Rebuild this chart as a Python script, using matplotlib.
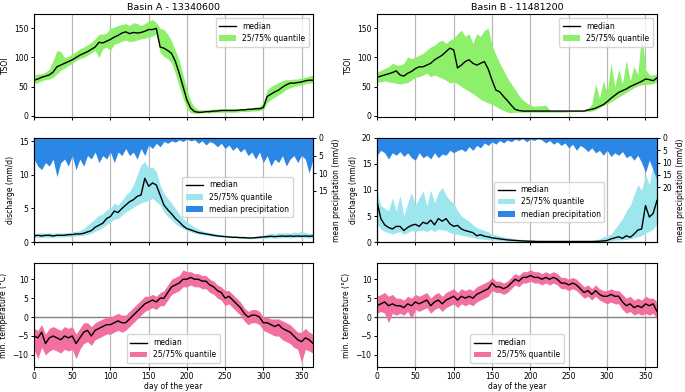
import numpy as np
import matplotlib
matplotlib.use("Agg")
import matplotlib.pyplot as plt

days = np.arange(0, 366, 5)

titles = ["Basin A - 13340600", "Basin B - 11481200"]

# ---- TSOI ----
tsoi_a_med = [61, 63, 66, 68, 70, 75, 84, 87, 90, 93,
              96, 100, 104, 107, 110, 114, 118, 126, 125, 128,
              131, 135, 138, 142, 144, 141, 143, 142, 143, 145,
              148, 148, 150, 118, 116, 112, 107, 93, 73, 50,
              27, 13, 7, 6, 6, 7, 7, 8, 8, 9,
              9, 9, 9, 9, 10, 10, 11, 11, 12, 12,
              14, 33, 37, 41, 44, 49, 53, 56, 56, 57,
              58, 60, 61, 61]
tsoi_a_hi = [70, 72, 72, 75, 80, 95, 112, 110, 100, 102,
             106, 110, 115, 118, 122, 126, 132, 140, 140, 142,
             150, 152, 155, 157, 158, 155, 160, 158, 155, 158,
             163, 165, 160, 150, 148, 140, 128, 112, 95, 70,
             45, 25, 15, 10, 10, 10, 11, 11, 12, 12,
             12, 12, 12, 12, 12, 12, 13, 14, 15, 16,
             22, 45, 50, 54, 57, 60, 62, 62, 63, 63,
             65, 66, 68, 70]
tsoi_a_lo = [55, 57, 60, 62, 63, 66, 72, 78, 82, 86,
             90, 95, 98, 100, 104, 108, 112, 100, 115, 118,
             112, 123, 125, 128, 130, 127, 128, 130, 132, 133,
             135, 137, 140, 108, 102, 98, 90, 72, 50, 30,
             12, 5, 4, 4, 5, 5, 5, 5, 6, 6,
             6, 6, 6, 6, 7, 7, 7, 8, 8, 9,
             10, 22, 28, 32, 36, 40, 45, 48, 50, 52,
             53, 55, 56, 57]

tsoi_b_med = [66, 68, 70, 72, 74, 77, 70, 68, 73, 76,
              81, 84, 84, 87, 90, 96, 100, 104, 110, 116,
              113, 82, 87, 93, 96, 90, 87, 90, 93, 80,
              61, 44, 41, 33, 26, 18, 11, 9, 8, 8,
              8, 8, 8, 8, 8, 8, 8, 8, 8, 8,
              8, 8, 8, 8, 8, 10, 11, 13, 16, 19,
              24, 30, 35, 40, 43, 46, 50, 53, 56, 59,
              63, 62, 60, 65]
tsoi_b_hi = [75, 78, 81, 84, 90, 87, 87, 90, 101, 98,
             101, 104, 107, 113, 118, 121, 127, 130, 124, 130,
             133, 141, 147, 136, 141, 124, 141, 136, 147, 150,
             120, 105, 90, 78, 65, 55, 45, 35, 27, 22,
             18, 16, 17, 17, 18, 10, 9, 9, 9, 9,
             9, 9, 9, 9, 10, 12, 20, 55, 30, 60,
             40, 90, 50, 80, 55, 95, 60, 85, 70, 145,
             80, 70, 70, 72]
tsoi_b_lo = [58, 58, 60, 58, 57, 56, 54, 56, 57, 61,
             66, 67, 70, 73, 67, 70, 67, 64, 61, 56,
             58, 55, 50, 46, 42, 38, 33, 28, 25, 22,
             20, 16, 12, 9, 6, 5, 6, 6, 6, 6,
             6, 6, 6, 6, 6, 6, 6, 6, 6, 6,
             7, 7, 7, 7, 7, 7, 8, 10, 14, 18,
             20, 24, 28, 32, 36, 40, 44, 48, 51, 53,
             54, 54, 55, 58]

# ---- discharge ----
q_a_med = [0.9, 1.0, 0.9, 1.0, 1.0, 0.9, 1.0, 1.0, 1.0, 1.1,
           1.1, 1.2, 1.2, 1.3, 1.5, 1.7, 2.2, 2.5, 2.8, 3.5,
           3.8, 4.6, 4.4, 5.0, 5.5, 6.0, 6.3, 6.8, 7.0, 9.5,
           8.3, 8.8, 8.5, 7.0, 5.5, 4.8, 4.2, 3.5, 3.0, 2.4,
           2.0, 1.8, 1.6, 1.4, 1.3, 1.2, 1.1, 1.0, 0.9, 0.85,
           0.8, 0.75, 0.7, 0.7, 0.65, 0.65, 0.6, 0.6, 0.65, 0.7,
           0.75, 0.8, 0.85, 0.8, 0.85, 0.9, 0.85, 0.9, 0.85, 0.9,
           0.85, 0.9, 0.85, 0.9]
q_a_hi = [1.2, 1.3, 1.4, 1.3, 1.4, 1.3, 1.4, 1.3, 1.4, 1.4,
          1.5, 1.6, 1.7, 2.0, 2.5, 3.0, 3.5, 4.0, 4.2, 4.8,
          5.0, 5.8, 5.5, 6.2, 7.0, 7.5, 8.5, 10.0, 11.5, 12.0,
          11.0, 11.2, 10.5, 8.5, 7.2, 6.5, 5.8, 5.0, 4.2, 3.5,
          3.0, 2.6, 2.2, 1.9, 1.7, 1.5, 1.4, 1.3, 1.2, 1.1,
          1.0, 0.95, 0.9, 0.9, 0.85, 0.85, 0.8, 0.8, 0.85, 0.9,
          1.0, 1.2, 1.3, 1.2, 1.4, 1.3, 1.4, 1.3, 1.5, 1.4,
          1.6, 1.4, 1.3, 1.3]
q_a_lo = [0.7, 0.7, 0.7, 0.7, 0.7, 0.7, 0.75, 0.75, 0.8, 0.8,
          0.85, 0.9, 0.95, 1.0, 1.1, 1.3, 1.6, 1.8, 2.2, 2.6,
          3.0, 3.4, 3.5, 4.0, 4.5, 4.8, 5.2, 5.5, 5.8, 6.0,
          6.2, 6.5, 6.0, 5.5, 4.5, 3.8, 3.3, 2.7, 2.3, 2.0,
          1.7, 1.5, 1.3, 1.2, 1.1, 1.0, 0.9, 0.85, 0.8, 0.75,
          0.7, 0.65, 0.6, 0.6, 0.55, 0.55, 0.5, 0.5, 0.5, 0.55,
          0.55, 0.6, 0.6, 0.6, 0.6, 0.65, 0.65, 0.6, 0.65, 0.65,
          0.65, 0.65, 0.6, 0.65]

q_b_med = [7.8, 4.5, 3.3, 2.8, 2.5, 3.0, 3.0, 2.2, 2.8, 3.2,
           3.4, 3.0, 3.8, 3.5, 4.2, 3.3, 4.5, 4.0, 4.5, 3.5,
           3.0, 3.2, 2.5, 2.2, 2.0, 1.8, 1.2, 1.4, 1.1, 1.0,
           0.8, 0.7, 0.6, 0.5, 0.4, 0.35, 0.3, 0.25, 0.2, 0.18,
           0.15, 0.12, 0.1, 0.1, 0.1, 0.1, 0.1, 0.1, 0.1, 0.1,
           0.1, 0.1, 0.1, 0.1, 0.1, 0.1, 0.1, 0.12, 0.15, 0.2,
           0.3, 0.6, 0.8, 1.0, 0.7, 1.2, 0.9, 1.5, 2.3, 2.5,
           7.0, 4.8, 5.5, 8.0]
q_b_hi = [10.0, 7.0, 6.5, 6.0, 8.5, 6.0, 9.0, 5.0, 7.5, 9.5,
          7.0, 8.5, 9.8, 7.0, 10.0, 7.5, 9.5, 10.5, 9.0, 8.0,
          7.5, 6.0, 5.0, 4.5, 4.0, 3.3, 2.8, 2.5, 2.2, 2.0,
          1.5, 1.4, 1.2, 1.0, 0.9, 0.75, 0.6, 0.55, 0.5, 0.45,
          0.4, 0.35, 0.3, 0.3, 0.3, 0.3, 0.3, 0.3, 0.3, 0.3,
          0.3, 0.3, 0.3, 0.3, 0.3, 0.3, 0.3, 0.4, 0.6, 1.0,
          1.2, 1.5, 2.5, 3.5, 4.5, 6.0, 7.0, 9.0, 11.0, 10.0,
          13.0, 11.0, 15.0, 17.0]
q_b_lo = [3.5, 2.5, 2.0, 1.8, 1.5, 1.8, 2.0, 1.5, 1.8, 2.2,
          2.0, 2.2, 2.3, 2.0, 2.4, 2.0, 2.5, 2.3, 2.2, 1.8,
          1.6, 1.5, 1.3, 1.2, 1.0, 0.9, 0.7, 0.6, 0.5, 0.45,
          0.4, 0.35, 0.3, 0.25, 0.2, 0.15, 0.1, 0.1, 0.08, 0.08,
          0.05, 0.05, 0.05, 0.05, 0.05, 0.05, 0.05, 0.05, 0.05, 0.05,
          0.05, 0.05, 0.05, 0.05, 0.05, 0.05, 0.05, 0.05, 0.08, 0.1,
          0.15, 0.2, 0.3, 0.4, 0.4, 0.5, 0.6, 0.8, 1.0, 1.2,
          1.8, 2.0, 2.5, 3.5]

# ---- precipitation ----
p_a = [6, 8, 9, 7, 8, 6, 11, 7, 6, 8,
       5, 9, 6, 8, 5, 6, 4, 7, 5, 6,
       4, 7, 4, 5, 3, 5, 4, 6, 3, 5,
       2, 3, 1.5, 2.5, 1, 1.5, 0.8, 1.2, 0.5, 1,
       0.3, 0.8, 0.5, 1.5, 0.8, 2, 1, 1.5, 2.5, 1.5,
       3, 2, 3.5, 2.5, 4, 3, 5, 4, 6, 4,
       7, 5, 8, 6, 7, 5, 8, 6, 5, 7,
       5, 6, 10, 6]
p_b = [7, 5, 6, 8.5, 6, 7, 5.5, 7.5, 6, 8,
       9, 6, 8, 7, 8.5, 6, 8, 6.5, 7, 5,
       6, 5, 4.5, 5.5, 3.5, 5, 3, 4, 2, 3,
       1.5, 2.5, 1, 2, 0.8, 1.5, 0.5, 1, 0.3, 1.5,
       0.5, 1, 0.3, 0.8, 2, 1, 2.5, 1.5, 3, 2,
       4, 2.5, 5, 3, 4, 5.5, 4, 6, 5, 7,
       5, 7.5, 6, 7, 5.5, 8, 7, 9, 7, 10,
       14, 9, 13, 17]

# ---- min temperature ----
t_a_med = [-5, -5.5, -4, -7, -5.5, -5, -5.5, -6, -5, -5.5,
           -5, -7, -5.5, -4, -3.5, -5, -3.5, -3, -2.5, -2,
           -2, -1.5, -1, -1.5, -1.5, -0.5, 0.5, 1.5, 2.5, 3.5,
           4, 4.5, 4, 5, 5, 6.5, 8, 8.5, 9, 10,
           10, 10.5, 10, 10, 9.5, 9.5, 8.5, 8, 7, 6.5,
           5, 5.5, 4.5, 3.5, 2.5, 1, 0, 0.5, 0.5, 0,
           -1.5, -1.5, -2, -2.5, -2, -3, -3.5, -4, -5, -6,
           -6.5, -5.5, -6, -7]
t_a_hi = [-3, -3.5, -2, -4.5, -3, -2.5, -3, -3.5, -2.5, -3,
          -2.5, -4.5, -3, -1.5, -1.5, -2.5, -1.5, -1, -0.5, 0,
          0, 0.5, 1, 0.5, 0.5, 1.5, 2.5, 3.5, 4.5, 5.5,
          5.5, 6, 5.5, 6.5, 7, 8.5, 10, 10.5, 11, 12.5,
          12, 12, 11.5, 11.5, 11, 11, 10, 9.5, 8.5, 8,
          7, 7, 6, 5, 4, 2.5, 1.5, 2, 2, 1.5,
          0, 0, -0.5, -0.5, -0.5, -1, -1.5, -2, -3, -4,
          -4, -3, -4, -4.5]
t_a_lo = [-8.5, -11, -8, -10, -9, -8.5, -9, -9.5, -8.5, -9,
          -8.5, -11, -8.5, -7, -6.5, -7.5, -6, -5.5, -5, -4.5,
          -4.5, -4, -3.5, -4, -3.5, -2.5, -1.5, -0.5, 0.5, 1.5,
          2, 2.5, 2, 3, 3, 4.5, 6, 6.5, 7, 8,
          8, 8.5, 8, 8, 7.5, 7.5, 6.5, 6, 5, 4.5,
          3, 3.5, 2.5, 1.5, 0.5, -1, -2, -1.5, -1.5, -2,
          -3.5, -4, -4.5, -5, -5, -6, -6.5, -7, -8, -8.5,
          -12, -8.5, -9, -9.5]

t_b_med = [3, 3.5, 4, 3, 3.5, 3, 3, 2.5, 3.5, 3,
           4, 3.5, 4, 4.5, 3, 4, 4.5, 3.5, 4.5, 5,
           5.5, 4.5, 5.5, 5, 5.5, 5, 6, 6.5, 7, 7.5,
           9, 8, 8, 7.5, 8, 9, 10, 9.5, 10.5, 10.5,
           11, 10.5, 10.5, 10, 10.5, 10, 10.5, 10, 9, 9,
           8.5, 9, 8.5, 7.5, 6.5, 7, 6, 7, 6, 5.5,
           5.5, 6, 5.5, 5.5, 4, 3, 3.5, 2.5, 3, 2.5,
           3.5, 3, 3.5, 1.5]
t_b_hi = [5.5, 6, 6.5, 5.5, 6, 5, 5, 4.5, 5.5, 5,
          6, 5.5, 6, 6.5, 5, 6, 6.5, 5.5, 6.5, 7,
          7.5, 6.5, 7.5, 7, 7.5, 7, 8, 8.5, 9, 9.5,
          10.5, 9.5, 9.5, 9, 9.5, 10.5, 11.5, 11, 12, 12,
          12.5, 12, 12, 11.5, 12, 11.5, 12, 11.5, 10.5, 10.5,
          10, 10.5, 10, 9, 8, 8.5, 7.5, 8.5, 7.5, 7,
          7, 7.5, 7, 7, 6, 5, 5.5, 4.5, 5, 4.5,
          5.5, 5, 5, 4]
t_b_lo = [1, 1.5, 1, -1.5, 1, 0.5, 1, 0.5, 1.5, -0.5,
          2, 1.5, 2, 2.5, 1, 2, 2.5, 1.5, 2.5, 3,
          3.5, 2.5, 3.5, 3, 3.5, 3, 4, 4.5, 5, 5.5,
          7, 6.5, 6.5, 6, 6.5, 7.5, 8.5, 8, 9, 9,
          9.5, 9, 9, 8.5, 9, 8.5, 9, 8.5, 7.5, 7.5,
          7, 7.5, 7, 6, 5, 5.5, 4.5, 5.5, 4.5, 4,
          3.5, 4, 3.5, 3.5, 2, 1, 1.5, 0.5, 1, 0.5,
          1, 0.5, 1, -0.5]

GREEN = "#8ef06a"
CYAN = "#9de6ee"
BLUE = "#2a87e6"
PINK = "#f2709f"
GRID = "#b8b8b8"

plt.rcParams["font.family"] = ["DejaVu Sans"]
plt.rcParams["font.size"] = 5.5
plt.rcParams["axes.linewidth"] = 0.8
plt.rcParams["xtick.major.width"] = 0.7
plt.rcParams["ytick.major.width"] = 0.7
plt.rcParams["xtick.major.size"] = 2.2
plt.rcParams["ytick.major.size"] = 2.2
plt.rcParams["xtick.major.pad"] = 1.5
plt.rcParams["ytick.major.pad"] = 1.8

fig = plt.figure(figsize=(6.85, 3.92), dpi=100)
W, H = 685.0, 392.0
cols = [(34, 313), (377, 657)]
rows = [(14, 117), (138, 242), (263, 367)]


def make_ax(c, r):
    x0, x1 = cols[c]
    y0, y1 = rows[r]
    return fig.add_axes([x0 / W, 1 - y1 / H, (x1 - x0) / W, (y1 - y0) / H])


def style_x(ax, labels):
    ax.set_xlim(0, 365)
    ax.set_xticks(range(0, 351, 50))
    ax.grid(axis="x", color=GRID, lw=0.9)
    ax.set_axisbelow(True)
    if not labels:
        ax.tick_params(labelbottom=False)
    else:
        ax.set_xlabel("day of the year", labelpad=0.8)


tsoi = [(tsoi_a_med, tsoi_a_lo, tsoi_a_hi), (tsoi_b_med, tsoi_b_lo, tsoi_b_hi)]
qs = [(q_a_med, q_a_lo, q_a_hi), (q_b_med, q_b_lo, q_b_hi)]
ps = [p_a, p_b]
ts = [(t_a_med, t_a_lo, t_a_hi), (t_b_med, t_b_lo, t_b_hi)]
q_top = [15.5, 20.0]
q_ticks = [[0, 5, 10, 15], [0, 5, 10, 15, 20]]
p_bottom = [29.6, 42.2]
p_ticks = [[0, 5, 10, 15], [0, 5, 10, 15, 20]]
qleg = [(0.525, 0.25, 0.41, 0.365), (0.395, 0.21, 0.44, 0.35)]

for c in range(2):
    # TSOI
    ax = make_ax(c, 0)
    med, lo, hi = tsoi[c]
    ax.fill_between(days, lo, hi, color=GREEN, lw=0, label="25/75% quantile")
    ax.plot(days, med, color="black", lw=1.0, label="median")
    ax.set_ylim(-2.2, 174.7)
    ax.set_yticks([0, 50, 100, 150])
    ax.set_ylabel("TSOI", labelpad=3)
    ax.set_title(titles[c], fontsize=6.8, pad=3)
    style_x(ax, False)
    h, l = ax.get_legend_handles_labels()
    ax.legend([h[1], h[0]], [l[1], l[0]], loc="upper right", handlelength=2.2,
              borderpad=0.5, labelspacing=0.4, framealpha=0.8)

    # discharge + precipitation
    ax = make_ax(c, 1)
    med, lo, hi = qs[c]
    f1 = ax.fill_between(days, lo, hi, color=CYAN, lw=0, label="25/75% quantile")
    l1, = ax.plot(days, med, color="black", lw=1.0, label="median")
    ax.set_ylim(0, q_top[c])
    ax.set_yticks(q_ticks[c])
    ax.set_ylabel("discharge (mm/d)", labelpad=3)
    style_x(ax, False)
    ax2 = ax.twinx()
    f2 = ax2.fill_between(days, 0, ps[c], color=BLUE, lw=0, label="median precipitation")
    ax2.set_ylim(p_bottom[c], 0)
    ax2.set_yticks(p_ticks[c])
    ax2.set_ylabel("mean precipitation (mm/d)", labelpad=3)
    ax2.set_xlim(0, 365)
    ax2.legend([l1, f1, f2], ["median", "25/75% quantile", "median precipitation"],
               loc="center", bbox_to_anchor=qleg[c], handlelength=2.2,
               borderpad=0.5, labelspacing=0.4, framealpha=0.8)

    # temperature
    ax = make_ax(c, 2)
    med, lo, hi = ts[c]
    ax.axhline(0, color="#808080", lw=1.0, zorder=1)
    ax.fill_between(days, lo, hi, color=PINK, lw=0, label="25/75% quantile", zorder=2)
    ax.plot(days, med, color="black", lw=1.0, label="median", zorder=3)
    ax.set_ylim(-13.2, 14.3)
    ax.set_yticks([-10, -5, 0, 5, 10])
    ax.set_ylabel("min. temperature (°C)", labelpad=3)
    style_x(ax, True)
    h, l = ax.get_legend_handles_labels()
    ax.legend([h[1], h[0]], [l[1], l[0]], loc="lower center", handlelength=2.2,
              borderpad=0.5, labelspacing=0.4, framealpha=0.8)

fig.savefig("out.png", dpi=100)
